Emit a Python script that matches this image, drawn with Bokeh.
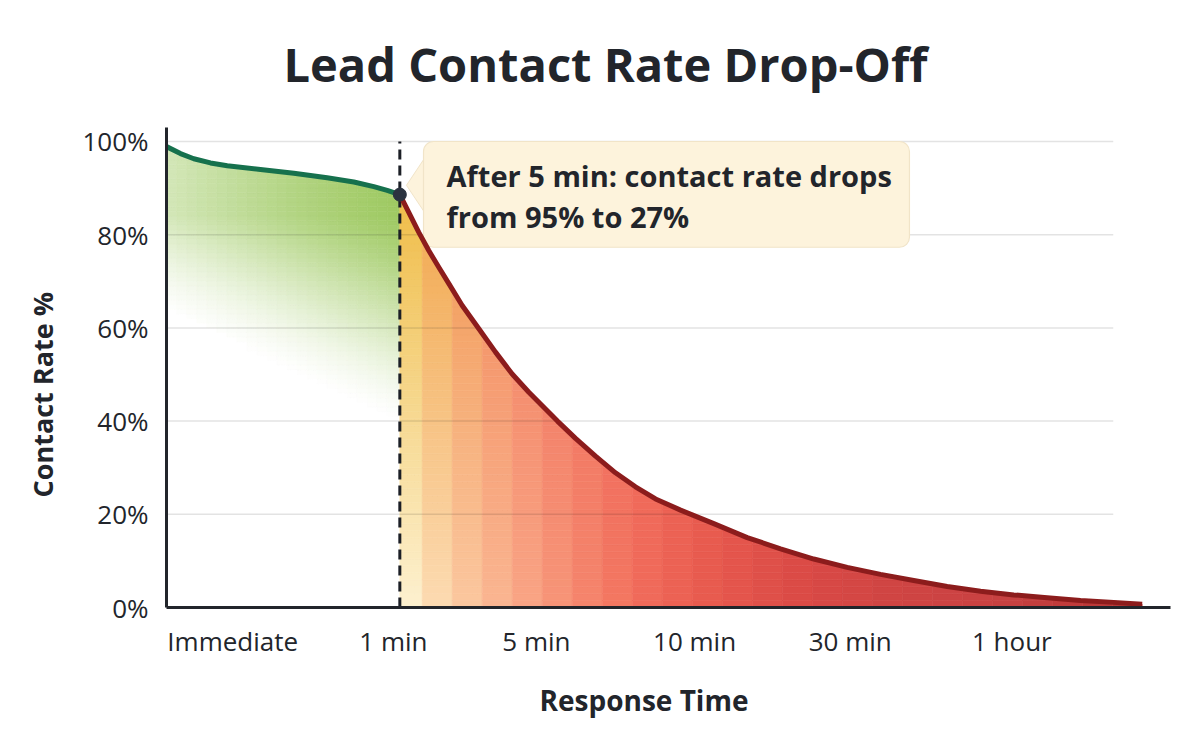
import numpy as np
from bokeh.plotting import figure
from bokeh.models import ColumnDataSource, FixedTicker, Title
from bokeh.embed import file_html
from bokeh.resources import INLINE

FONT = "Open Sans"
INK = "#22252b"

# Response-time axis (plot units 0..100 across the frame)
tick_pos = [6.6, 22.6, 36.85, 52.6, 68.1, 84.2]
tick_labels = ["Immediate", "1 min", "5 min", "10 min", "30 min", "1 hour"]
y_ticks = [0, 20, 40, 60, 80, 100]

# Contact rate (%) while the lead is still warm (up to the 1 minute mark)
fast_x = [0.0, 1.39, 2.72, 4.38, 6.05, 9.36, 12.68, 16.0, 18.66, 20.65, 21.98, 23.24]
fast_y = [98.9, 97.4, 96.3, 95.4, 94.8, 94.0, 93.2, 92.2, 91.3, 90.3, 89.5, 88.6]

# Contact rate (%) after the 1 minute mark
slow_x = [23.24, 24.13, 25.13, 26.12, 27.12, 28.12, 29.45, 31.11, 32.77, 34.43,
          36.09, 37.75, 38.94, 40.74, 42.73, 44.72, 46.71, 48.71, 51.2, 54.51,
          57.84, 61.16, 64.47, 67.8, 71.12, 74.43, 77.76, 81.08, 84.39, 87.72,
          91.04, 94.35, 97.18]
slow_y = [88.6, 84.8, 80.5, 76.6, 73.0, 69.5, 64.8, 59.8, 54.8, 50.1,
          46.2, 42.6, 40.0, 36.3, 32.5, 28.9, 25.9, 23.3, 20.9, 18.0,
          15.0, 12.6, 10.4, 8.6, 7.1, 5.8, 4.5, 3.5, 2.7, 2.1,
          1.5, 1.1, 0.7]

note_lines = ["After 5 min: contact rate drops", "from 95% to 27%"]


def rgb(h):
    h = h.lstrip("#")
    return np.array([int(h[i:i + 2], 16) for i in (0, 2, 4)], dtype=float)


def hexc(c):
    c = np.clip(np.round(c), 0, 255).astype(int)
    return "#%02x%02x%02x" % tuple(c)


def mix(a, b, t):
    return a + (b - a) * t


# colour ramps for the falling part: (x, colour at the baseline, colour at the curve)
red_stops_x = [24.3, 26.9, 29.8, 32.7, 35.7, 38.7, 41.7, 44.7, 47.7, 53.2, 63.2, 73.1, 83.1, 96.0]
red_bottom = ["#fdf1d0", "#fcdbb2", "#fbc8a0", "#fab792", "#f9a686", "#f79679", "#f5866d",
              "#f37862", "#f06b5a", "#e95c50", "#da4a46", "#cf4443", "#c84242", "#b83535"]
red_top = ["#f0c050", "#f3b05e", "#f4a468", "#f59a6e", "#f59070", "#f4856c", "#f37c66",
           "#f27260", "#f06b5a", "#e95c50", "#da4a46", "#cf4443", "#c84242", "#b83535"]
red_bottom_rgb = np.array([rgb(c) for c in red_bottom])
red_top_rgb = np.array([rgb(c) for c in red_top])


def ramp(arr, x):
    return np.array([np.interp(x, red_stops_x, arr[:, k]) for k in range(3)])


def red_color(xc, yc, curve_c):
    t = min(max(yc / max(curve_c, 1e-6), 0.0), 1.0)
    return hexc(mix(ramp(red_bottom_rgb, xc), ramp(red_top_rgb, xc), t))


WHITE = rgb("#ffffff")
GREEN = rgb("#9cc85e")
X_SPLIT = fast_x[-1]


def green_color(xc, yc, curve_c):
    lin = 0.0217 * xc + 0.0214 * yc - 1.353
    cap = 0.45 + 0.5 * xc / X_SPLIT
    t = min(max(min(lin, cap), 0.0), 1.0)
    t = t * t * (3 - 2 * t) * 0.5 + t * 0.5  # soften the fade-out edge
    if t < 0.01:
        return None
    return hexc(mix(WHITE, GREEN, t))


def build_cells(cx, cy, edges, band, color_fn, out):
    """Split the area under a falling curve into small shaded cells."""
    rx, ry = np.asarray(cx)[::-1], np.asarray(cy)[::-1]
    for xa, xb in zip(edges[:-1], edges[1:]):
        y_left = float(np.interp(xa, cx, cy))
        xc = 0.5 * (xa + xb)
        curve_c = float(np.interp(xc, cx, cy))
        lo = 0.0
        while lo < y_left - 1e-9:
            hi = lo + band
            x_end = min(xb, float(np.interp(lo, ry, rx)))
            xs = np.linspace(xa, x_end, 7)
            top = np.clip(np.interp(xs, cx, cy), lo, hi)
            yc = 0.5 * (lo + min(hi, curve_c))
            col = color_fn(xc, yc, curve_c)
            if col is not None:
                out["xs"].append(list(xs) + list(xs[::-1]))
                out["ys"].append([lo] * len(xs) + list(top[::-1]))
                out["c"].append(col)
            lo = hi


cells = {"xs": [], "ys": [], "c": []}
green_edges = list(np.arange(0.0, X_SPLIT, 1.0)) + [X_SPLIT]
build_cells(fast_x, fast_y, green_edges, 1.0, green_color, cells)
strip_w = 2.99
red_edges = [X_SPLIT]
e = 25.47
while e < slow_x[-1]:
    red_edges.append(e)
    e += strip_w
red_edges.append(slow_x[-1])
build_cells(slow_x, slow_y, red_edges, 1.5, red_color, cells)

p = figure(width=1200, height=749, x_range=(0, 100), y_range=(0, 103),
           output_backend="svg", toolbar_location=None,
           min_border_left=166, min_border_right=30,
           min_border_top=127, min_border_bottom=142)
p.background_fill_color = "white"
p.border_fill_color = "white"
p.outline_line_color = None
p.grid.visible = False

# shaded area under the curve
p.patches("xs", "ys", source=ColumnDataSource(cells), fill_color="c",
          line_color="c", line_width=0.6)

# horizontal guide lines
grid_y = y_ticks[1:]
p.segment(x0=[0] * len(grid_y), x1=[94.3] * len(grid_y), y0=grid_y, y1=grid_y,
          line_color="#000000", line_alpha=0.11, line_width=1.5)

# threshold marker line
p.segment(x0=[X_SPLIT], x1=[X_SPLIT], y0=[0], y1=[100],
          line_color="#1c1f26", line_width=3, line_dash="10 6")

# callout box with pointer
p.patch(x=[25.7, 23.9, 25.7], y=[96.4, 90.6, 84.8],
        fill_color="#fdf3dc", line_color="#f1e4c8", line_width=1)
p.quad(left=[25.6], right=[74.0], top=[100.0], bottom=[77.3],
       fill_color="#fdf3dc", line_color="#f1e4c8", line_width=1.2,
       border_radius=10)

# curves
p.line(slow_x, slow_y, line_color="#8c1c1c", line_width=5, line_join="round")
p.line(fast_x, fast_y, line_color="#16714d", line_width=5, line_join="round")
p.scatter([X_SPLIT], [fast_y[-1]], size=13, fill_color="#2b3340", line_color="#2b3340")

# callout text
p.text(x=[27.9, 27.9], y=[92.8, 84.0], text=note_lines,
       text_font={"value": FONT}, text_font_style="bold", text_font_size="29px",
       text_color=INK, text_baseline="alphabetic", text_align="left")

# axes
p.xaxis.ticker = FixedTicker(ticks=tick_pos)
p.xaxis.major_label_overrides = {t: s for t, s in zip(tick_pos, tick_labels)}
p.yaxis.ticker = FixedTicker(ticks=y_ticks)
p.yaxis.major_label_overrides = {t: f"{t}%" for t in y_ticks}
for ax in (p.xaxis[0], p.yaxis[0]):
    ax.axis_line_color = "#22252b"
    ax.axis_line_width = 3
    ax.major_tick_line_color = None
    ax.minor_tick_line_color = None
    ax.major_tick_out = 0
    ax.major_tick_in = 0
    ax.major_label_text_font = FONT
    ax.major_label_text_font_size = "26px"
    ax.major_label_text_color = INK
p.xaxis.major_label_standoff = 15
p.yaxis.major_label_standoff = 18

# titles
p.title.text = "Lead Contact Rate Drop-Off"
p.title.align = "left"
p.title.offset = 117
p.title.vertical_align = "top"
p.title.text_font = FONT
p.title.text_font_style = "bold"
p.title.text_font_size = "47px"
p.title.text_color = INK
p.title.standoff = 59

p.add_layout(Title(text="Response Time", align="left", offset=373,
                   text_font=FONT, text_font_style="bold", text_font_size="28px",
                   text_color=INK, standoff=34), "below")
p.add_layout(Title(text="Contact Rate %", align="left", offset=110,
                   text_font=FONT, text_font_style="bold", text_font_size="27px",
                   text_color=INK, standoff=38), "left")

open("out.html", "w").write(file_html(p, INLINE))
